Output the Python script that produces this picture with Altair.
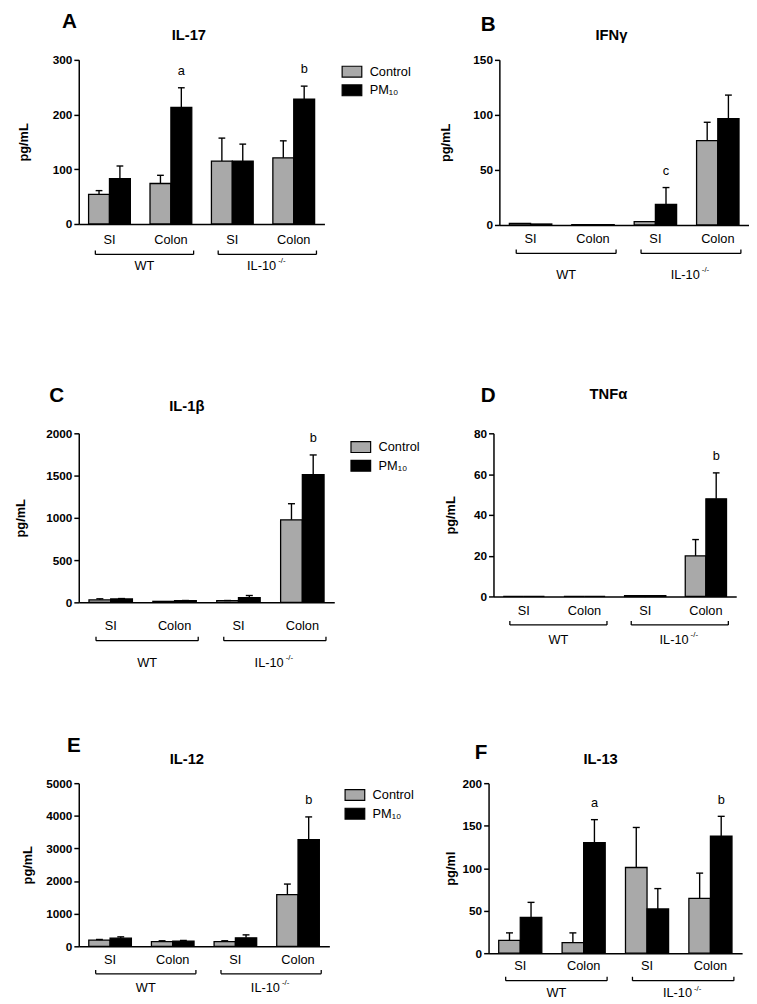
import altair as alt
import pandas as pd

FONT = "Liberation Sans"

tissues = ["SI", "Colon", "SI", "Colon"]
genotypes = ["WT", "IL-10"]
treatments = ["Control", "PM₁₀"]

il17_control = [54, 74, 115, 121]
il17_control_err = [61, 89, 157, 152]
il17_pm = [83, 213, 115, 228]
il17_pm_err = [106, 249, 146, 252]
il17_marks = ["", "a", "", "b"]

ifng_control = [1.5, 0.3, 3.0, 76.6]
ifng_control_err = [1.5, 0.3, 3.0, 93.3]
ifng_pm = [0.9, 0.3, 18.7, 96.5]
ifng_pm_err = [0.9, 0.3, 34, 118]
ifng_marks = ["", "", "c", ""]

il1b_control = [30, 12, 20, 977]
il1b_control_err = [42, 12, 22, 1167]
il1b_pm = [40, 20, 55, 1512]
il1b_pm_err = [45, 22, 81, 1744]
il1b_marks = ["", "", "", "b"]

tnfa_control = [0, 0, 0.4, 19.9]
tnfa_control_err = [0, 0, 0.4, 27.9]
tnfa_pm = [0, 0, 0.4, 47.9]
tnfa_pm_err = [0, 0, 0.4, 60.6]
tnfa_marks = ["", "", "", "b"]

il12_control = [191, 141, 141, 1586]
il12_control_err = [210, 170, 170, 1908]
il12_pm = [251, 161, 261, 3273]
il12_pm_err = [290, 180, 351, 3966]
il12_marks = ["", "", "", "b"]

il13_control = [15.1, 12.4, 100.8, 64.5]
il13_control_err = [23.9, 23.9, 147.9, 94.2]
il13_pm = [42.1, 130.1, 52.1, 137.8]
il13_pm_err = [59.8, 157.1, 76, 161]
il13_marks = ["", "a", "", "b"]

panels = [
    dict(letter="A", title="IL-17", ylab="pg/mL", ticks=[0, 100, 200, 300],
         data=(il17_control, il17_control_err, il17_pm, il17_pm_err, il17_marks),
         w=250, h=167, lab=16, br=31, grp=43, let=(-17, -32), tit=(112, -25),
         tx=-56, spacer=-72, bottom=265, legend=(267, 1)),
    dict(letter="B", title="IFNγ", ylab="pg/mL", ticks=[0, 50, 100, 150],
         data=(ifng_control, ifng_control_err, ifng_pm, ifng_pm_err, ifng_marks),
         w=254, h=168, lab=14, br=29, grp=51, let=(-19, -29), tit=(114, -25),
         tx=-55, spacer=None, bottom=None, legend=None),
    dict(letter="C", title="IL-1β", ylab="pg/mL", ticks=[0, 500, 1000, 1500, 2000],
         data=(il1b_control, il1b_control_err, il1b_pm, il1b_pm_err, il1b_marks),
         w=260, h=172, lab=24, br=39, grp=62, let=(-30, -32), tit=(110, -28),
         tx=-59, spacer=-70, bottom=None, legend=(276, 3)),
    dict(letter="D", title="TNFα", ylab="pg/mL", ticks=[0, 20, 40, 60, 80],
         data=(tnfa_control, tnfa_control_err, tnfa_pm, tnfa_pm_err, tnfa_marks),
         w=247, h=166, lab=15, br=29, grp=44, let=(-13, -32), tit=(117, -40),
         tx=-44, spacer=None, bottom=None, legend=None),
    dict(letter="E", title="IL-12", ylab="pg/mL", ticks=[0, 1000, 2000, 3000, 4000, 5000],
         data=(il12_control, il12_control_err, il12_pm, il12_pm_err, il12_marks),
         w=255, h=166, lab=14, br=28, grp=42, let=(-12, -32), tit=(110, -25),
         tx=-52, spacer=-59, bottom=None, legend=(270, 1)),
    dict(letter="F", title="IL-13", ylab="pg/ml", ticks=[0, 50, 100, 150, 200],
         data=(il13_control, il13_control_err, il13_pm, il13_pm_err, il13_marks),
         w=258, h=173, lab=13, br=28, grp=41, let=(-14, -25), tit=(114, -25),
         tx=-39, spacer=None, bottom=None, legend=None),
]

HW = 0.34
CAP = 0.055


def build(cfg):
    ctrl, ctrl_e, pm, pm_e, marks = cfg["data"]
    h = cfg["h"]
    recs = []
    for i in range(4):
        c = i + 0.5
        for tr, v, e, x0, mk in ((treatments[0], ctrl[i], ctrl_e[i], c - HW, ""),
                                 (treatments[1], pm[i], pm_e[i], c, marks[i])):
            xc = x0 + HW / 2
            recs.append(dict(treatment=tr, value=v, err=e, x0=x0, x1=x0 + HW, xc=xc,
                             cap0=xc - CAP, cap1=xc + CAP, mark=mk, base=0))
    df = pd.DataFrame(recs)
    errdf = df[df["err"] > df["value"]]
    markdf = df[df["mark"] != ""]

    xscale = alt.Scale(domain=[0, 4], nice=False, zero=False)
    xaxis = alt.Axis(labels=False, ticks=False, grid=False, title=None,
                     domainColor="black", domainWidth=1.5)
    yscale = alt.Scale(domain=[cfg["ticks"][0], cfg["ticks"][-1]], nice=False)
    yaxis = alt.Axis(values=cfg["ticks"], tickCount=len(cfg["ticks"]), format="d",
                     grid=False, title=cfg["ylab"],
                     titleX=cfg["tx"], titleY=h / 2, titleAngle=270, titleAlign="center",
                     titleBaseline="middle", titleFont=FONT, titleFontSize=13,
                     titleFontWeight="bold", titleColor="black",
                     labelFont=FONT, labelFontSize=12, labelFontWeight="bold",
                     labelColor="black", labelPadding=2, labelOverlap=False,
                     tickSize=5, tickColor="black",
                     tickWidth=1.5, domainColor="black", domainWidth=1.5)
    plain = alt.Axis(values=cfg["ticks"], tickCount=len(cfg["ticks"]), labelOverlap=False)

    if cfg["legend"] is not None:
        legend = alt.Legend(title=None, orient="none", legendX=cfg["legend"][0],
                            legendY=cfg["legend"][1], symbolType="M-1,-0.55H1V0.55H-1Z",
                            symbolSize=400, symbolStrokeColor="black", symbolStrokeWidth=1.2,
                            labelFont=FONT, labelFontSize=13, labelColor="black",
                            labelOffset=7, padding=0, rowPadding=0)
    else:
        legend = None

    bars = alt.Chart(df).mark_bar(stroke="black", strokeWidth=1.3).encode(
        x=alt.X("x0:Q", scale=xscale, axis=xaxis),
        x2="x1:Q",
        y=alt.Y("value:Q", scale=yscale, axis=yaxis),
        y2="base:Q",
        fill=alt.Fill("treatment:N", sort=treatments,
                      scale=alt.Scale(domain=treatments, range=["#a9a9a9", "black"]),
                      legend=legend),
    )
    stems = alt.Chart(errdf).mark_rule(color="black", strokeWidth=1.4).encode(
        x="xc:Q", y=alt.Y("value:Q", axis=plain), y2="err:Q")
    caps = alt.Chart(errdf).mark_rule(color="black", strokeWidth=1.4).encode(
        x="cap0:Q", x2="cap1:Q", y=alt.Y("err:Q", axis=plain))
    sig = alt.Chart(markdf).mark_text(font=FONT, fontSize=13, color="black",
                                      baseline="middle", dy=-17).encode(
        x="xc:Q", y=alt.Y("err:Q", axis=plain), text="mark:N")

    tdf = pd.DataFrame({"pos": [i + 0.5 for i in range(4)], "tissue": tissues})
    tlab = alt.Chart(tdf).mark_text(font=FONT, fontSize=13, color="black",
                                    baseline="middle").encode(
        x="pos:Q", y=alt.value(h + cfg["lab"]), text="tissue:N")

    bdf = pd.DataFrame({"g": genotypes,
                        "b0": [2 * g + 0.27 for g in range(2)],
                        "b1": [2 * g + 1.87 for g in range(2)]})
    bdf["mid"] = (bdf["b0"] + bdf["b1"]) / 2
    ends = pd.DataFrame({"e": list(bdf["b0"]) + list(bdf["b1"])})
    hline = alt.Chart(bdf).mark_rule(color="black", strokeWidth=1.3).encode(
        x="b0:Q", x2="b1:Q", y=alt.value(h + cfg["br"]))
    vline = alt.Chart(ends).mark_rule(color="black", strokeWidth=1.3).encode(
        x="e:Q", y=alt.value(h + cfg["br"]), y2=alt.value(h + cfg["br"] - 4))
    wt = alt.Chart(bdf[bdf["g"] == "WT"]).mark_text(
        font=FONT, fontSize=13, color="black", baseline="middle").encode(
        x="mid:Q", y=alt.value(h + cfg["grp"]), text="g:N")
    il = alt.Chart(bdf[bdf["g"] != "WT"]).mark_text(
        font=FONT, fontSize=13, color="black", baseline="middle", align="right", dx=9).encode(
        x="mid:Q", y=alt.value(h + cfg["grp"]), text="g:N")
    sup = alt.Chart(bdf[bdf["g"] != "WT"]).mark_text(
        font=FONT, fontSize=8, color="black", baseline="middle", align="left",
        dx=11, dy=-5, text="-/-").encode(
        x="mid:Q", y=alt.value(h + cfg["grp"]))

    one = pd.DataFrame({"letter": [cfg["letter"]], "title": [cfg["title"]]})
    letter = alt.Chart(one).mark_text(font=FONT, fontSize=21, fontWeight="bold",
                                      color="black", align="left",
                                      baseline="alphabetic").encode(
        x=alt.value(cfg["let"][0]), y=alt.value(cfg["let"][1]), text="letter:N")
    title = alt.Chart(one).mark_text(font=FONT, fontSize=15, fontWeight="bold",
                                     color="black", align="center",
                                     baseline="middle").encode(
        x=alt.value(cfg["tit"][0]), y=alt.value(cfg["tit"][1]), text="title:N")

    layers = [bars, stems, caps, sig, tlab, hline, vline, wt, il, sup, letter, title]
    if cfg["spacer"] is not None:
        layers.append(alt.Chart(one).mark_text(text=" ", fontSize=10).encode(
            x=alt.value(cfg["spacer"]), y=alt.value(0)))
    if cfg["bottom"] is not None:
        layers.append(alt.Chart(one).mark_text(text=" ", fontSize=10, baseline="bottom").encode(
            x=alt.value(0), y=alt.value(cfg["bottom"])))
    return alt.layer(*layers).properties(width=cfg["w"], height=h)


charts = [build(p) for p in panels]
row_spacing = [29, 25, 31]
rows = [alt.hconcat(charts[2 * r], charts[2 * r + 1], spacing=row_spacing[r])
        .resolve_scale(fill="independent").resolve_legend(fill="independent")
        for r in range(3)]

chart = alt.vconcat(*rows, spacing=66).resolve_scale(fill="independent").resolve_legend(
    fill="independent").properties(
    padding={"left": 0, "top": -5, "right": 0, "bottom": 0}
).configure_view(stroke=None).configure_axis(labelOverlap=False)

chart.save("out.html", embed_options={"renderer": "svg", "actions": False})
